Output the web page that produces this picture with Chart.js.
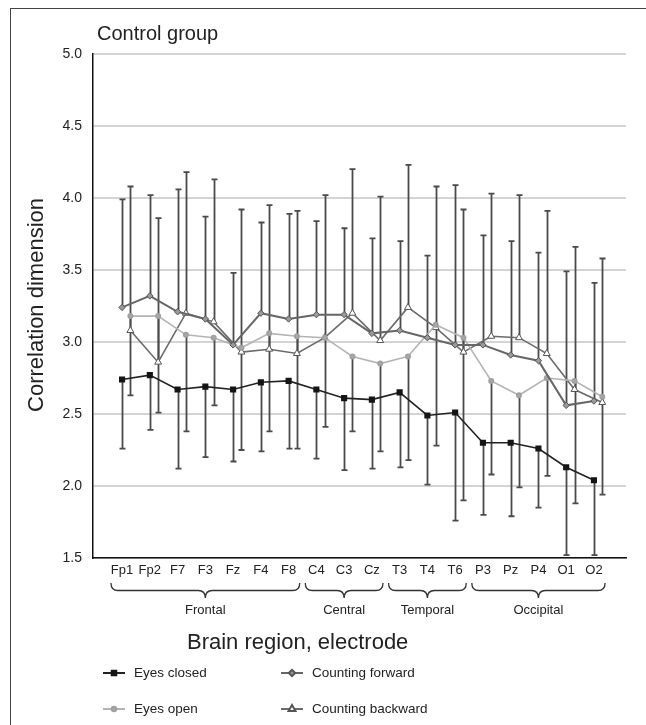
<!DOCTYPE html>
<html><head><meta charset="utf-8">
<script src="https://cdn.jsdelivr.net/npm/chart.js@4/dist/chart.umd.min.js"></script>
<style>
html,body{margin:0;padding:0;background:#fff;}
#wrap{position:relative;width:646px;height:725px;overflow:hidden;}
#frame{position:absolute;left:10px;top:8px;width:700px;height:800px;border-left:1px solid #444;border-top:1px solid #444;}
canvas{position:absolute;left:0;top:0;}
</style></head><body>
<div id="wrap"><div id="frame"></div><canvas id="c" width="646" height="725"></canvas></div>
<script>
// ---- data ----
const categories = ['Fp1','Fp2','F7','F3','Fz','F4','F8','C4','C3','Cz','T3','T4','T6','P3','Pz','P4','O1','O2'];
const yTicks = [1.5, 2.0, 2.5, 3.0, 3.5, 4.0, 4.5, 5.0];
const groupNames = ['Frontal','Central','Temporal','Occipital'];
const groupFirst = ['Fp1','C4','T3','P3'];
const groupLast  = ['F8','Cz','T6','O2'];

const eyesClosed      = [2.74,2.77,2.67,2.69,2.67,2.72,2.73,2.67,2.61,2.60,2.65,2.49,2.51,2.30,2.30,2.26,2.13,2.04];
const eyesClosedLow   = [2.26,2.39,2.12,2.20,2.17,2.24,2.26,2.19,2.11,2.12,2.13,2.01,1.76,1.80,1.79,1.85,1.52,1.52];
const countFwd        = [3.24,3.32,3.21,3.16,2.98,3.20,3.16,3.19,3.19,3.06,3.08,3.03,2.98,2.98,2.91,2.87,2.56,2.59];
const countFwdHigh    = [3.99,4.02,4.06,3.87,3.48,3.83,3.89,3.84,3.79,3.72,3.70,3.60,4.09,3.74,3.70,3.62,3.49,3.41];
const eyesOpen        = [3.18,3.18,3.05,3.03,2.96,3.06,3.04,3.03,2.90,2.85,2.90,3.12,3.03,2.73,2.63,2.75,2.73,2.62];
const eyesOpenLow     = [2.63,2.51,2.38,2.56,2.25,2.38,2.26,2.41,2.38,2.24,2.18,2.28,1.90,2.08,1.99,2.07,1.88,1.94];
const countBwd        = [3.08,2.86,3.20,3.14,2.93,2.95,2.92,3.03,3.20,3.01,3.24,3.10,2.93,3.04,3.03,2.92,2.67,2.58];
const countBwdHigh    = [4.08,3.86,4.18,4.13,3.92,3.95,3.91,4.02,4.20,4.01,4.23,4.08,3.92,4.03,4.02,3.91,3.66,3.58];

// ---- styling / layout ----
const FONT = "'Liberation Sans', Arial, Helvetica, sans-serif";
const SHIFT = 0.3; // horizontal shift (in category units) of the second pair of series
const TXT = '#222';

function pts(arr, shift){ return arr.map((v,i)=>({x:i+shift, y:v})); }

const series = [
  {label:'Eyes closed', data:pts(eyesClosed,0), borderColor:'#222', backgroundColor:'#151515', pointStyle:'rect', pointRadius:3.2, pointBorderColor:'#151515', borderWidth:1.6},
  {label:'Counting forward', data:pts(countFwd,0), borderColor:'#666', backgroundColor:'#999', pointStyle:'rectRot', pointRadius:3.2, pointBorderColor:'#555', pointBorderWidth:1, borderWidth:2},
  {label:'Eyes open', data:pts(eyesOpen,SHIFT), borderColor:'#b4b4b4', backgroundColor:'#a8a8a8', pointStyle:'circle', pointRadius:2.2, pointBorderColor:'#a0a0a0', borderWidth:1.6},
  {label:'Counting backward', data:pts(countBwd,SHIFT), borderColor:'#6a6a6a', backgroundColor:'#fff', pointStyle:'triangle', pointRadius:4, pointBorderColor:'#555', pointBorderWidth:1, borderWidth:1.6}
];

const errorBars = [
  {vals:eyesClosed, ends:eyesClosedLow, shift:0},
  {vals:countFwd, ends:countFwdHigh, shift:0},
  {vals:eyesOpen, ends:eyesOpenLow, shift:SHIFT},
  {vals:countBwd, ends:countBwdHigh, shift:SHIFT}
];

const errorPlugin = {
  id:'errbars',
  beforeDatasetsDraw(chart){
    const {ctx, scales:{x, y}} = chart;
    ctx.save();
    ctx.strokeStyle = '#4a4a4a';
    ctx.lineWidth = 1.8;
    errorBars.forEach(eb=>{
      eb.vals.forEach((v,i)=>{
        const px = Math.round(x.getPixelForValue(i+eb.shift))+0.5;
        const y0 = y.getPixelForValue(v), y1 = y.getPixelForValue(eb.ends[i]);
        ctx.beginPath();
        ctx.moveTo(px,y0); ctx.lineTo(px,y1);
        ctx.moveTo(px-3,y1); ctx.lineTo(px+3,y1);
        ctx.stroke();
      });
    });
    ctx.restore();
  }
};

function brace(ctx, x1, x2, y0, h){
  const xm=(x1+x2)/2, r=7, ym=y0+h/2;
  ctx.beginPath();
  ctx.moveTo(x1,y0);
  ctx.quadraticCurveTo(x1,ym,x1+r,ym);
  ctx.lineTo(xm-r,ym);
  ctx.quadraticCurveTo(xm,ym,xm,y0+h);
  ctx.quadraticCurveTo(xm,ym,xm+r,ym);
  ctx.lineTo(x2-r,ym);
  ctx.quadraticCurveTo(x2,ym,x2,y0);
  ctx.stroke();
}

function legendSymbol(ctx, ds, x, y){
  ctx.save();
  ctx.strokeStyle = ds.borderColor; ctx.lineWidth = 2;
  ctx.beginPath(); ctx.moveTo(x-11,y); ctx.lineTo(x+11,y); ctx.stroke();
  ctx.fillStyle = ds.backgroundColor; ctx.strokeStyle = ds.pointBorderColor;
  Chart.helpers.drawPoint(ctx, {pointStyle:ds.pointStyle, radius:ds.pointRadius, borderWidth:ds.pointBorderWidth||1}, x, y);
  ctx.restore();
}

const annotPlugin = {
  id:'annot',
  afterDraw(chart){
    const {ctx, scales:{x}} = chart;
    ctx.save();
    ctx.fillStyle = TXT;
    // title
    ctx.font = '20px '+FONT; ctx.textAlign='left'; ctx.textBaseline='alphabetic';
    ctx.fillText('Control group', 97, 40);
    // y title
    ctx.save();
    ctx.translate(37, 305); ctx.rotate(-Math.PI/2);
    ctx.font = '22px '+FONT; ctx.textAlign='center'; ctx.textBaseline='middle';
    ctx.fillText('Correlation dimension', 0, 0);
    ctx.restore();
    // group braces
    ctx.strokeStyle='#333'; ctx.lineWidth=1.3;
    ctx.font='13px '+FONT; ctx.textAlign='center'; ctx.textBaseline='middle';
    groupNames.forEach((g,k)=>{
      const a = categories.indexOf(groupFirst[k]), b = categories.indexOf(groupLast[k]);
      const x1 = x.getPixelForValue(a-0.4), x2 = x.getPixelForValue(b+0.4);
      brace(ctx, x1, x2, 583, 15);
      ctx.fillText(g, (x.getPixelForValue(a)+x.getPixelForValue(b))/2, 610);
    });
    // x title
    ctx.font='22px '+FONT; ctx.textAlign='left'; ctx.textBaseline='middle';
    ctx.fillText('Brain region, electrode', 187, 643);
    // legend
    const pos = [[114,673],[292,673],[114,709],[292,709]];
    [0,1,2,3].forEach((di,k)=>{
      const ds = chart.data.datasets[di];
      legendSymbol(ctx, ds, pos[k][0], pos[k][1]);
      ctx.fillStyle = TXT;
      ctx.font='13.5px '+FONT; ctx.textAlign='left'; ctx.textBaseline='middle';
      ctx.fillText(ds.label, pos[k][0]+20, pos[k][1]);
    });
    ctx.restore();
  }
};

Chart.defaults.font.family = FONT;
new Chart(document.getElementById('c'), {
  type:'line',
  data:{datasets:series.map(s=>Object.assign({fill:false, tension:0, pointHoverRadius:s.pointRadius}, s))},
  options:{
    responsive:false, animation:false, devicePixelRatio:1,
    layout:{padding:{top:54, right:20, left:0, bottom:0}},
    plugins:{legend:{display:false}, tooltip:{enabled:false}},
    scales:{
      x:{type:'linear', min:-1.047, max:18.155,
         grid:{display:false, drawTicks:false},
         border:{color:'#111', width:1.5},
         afterBuildTicks:s=>{ s.ticks = categories.map((_,i)=>({value:i})); },
         afterFit:s=>{ s.height = 167; },
         ticks:{autoSkip:false, maxRotation:0, minRotation:0, padding:5, color:TXT, font:{size:13},
                callback:v=>categories[v] ?? ''}},
      y:{type:'linear', min:1.5, max:5,
         afterBuildTicks:s=>{ s.ticks = yTicks.map(v=>({value:v})); },
         afterFit:s=>{ s.width = 93; },
         grid:{color:'#d4d4d4', lineWidth:2, drawTicks:false},
         border:{color:'#111', width:1.5},
         ticks:{padding:11, color:TXT, font:{size:14}, callback:v=>v.toFixed(1)}}
    }
  },
  plugins:[errorPlugin, annotPlugin]
});
</script>
</body></html>
